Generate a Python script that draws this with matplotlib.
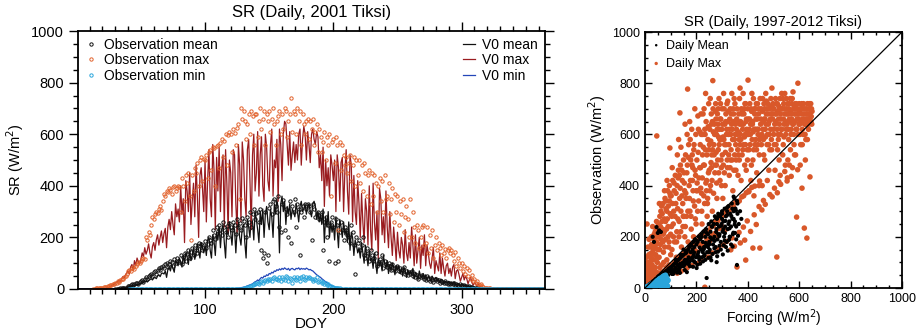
import matplotlib
matplotlib.use("Agg")
import matplotlib.pyplot as plt
import numpy as np
from matplotlib.ticker import MultipleLocator

plt.rcParams['font.family'] = ['Liberation Sans', 'DejaVu Sans']

# ---------------- left panel: daily SR, 2001 (DOY 1..365) ----------------
v0_max = [0]*19 + [
    1, 2, 3, 4, 5, 7, 9, 12, 15, 18,
    22, 26, 30, 34, 28, 40, 48, 44, 55, 62,
    70, 58, 85, 95, 72, 110, 90, 120, 105, 98,
    115, 140, 125, 160, 135, 150, 175, 140, 120, 165,
    180, 150, 190, 210, 170, 200, 225, 180, 215, 235,
    160, 240, 270, 230, 300, 250, 210, 330, 280, 310,
    260, 400, 290, 350, 180, 420, 380, 300, 450, 250,
    340, 410, 280, 480, 360, 200, 440, 470, 390, 300,
    500, 260, 420, 540, 350, 280, 560, 460, 230, 510,
    380, 550, 300, 470, 520, 240, 540, 410, 220, 500,
    450, 280, 540, 520, 330, 220, 560, 480, 260, 570,
    500, 350, 280, 540, 580, 420, 230, 520, 600, 380,
    450, 610, 360, 520, 590, 400, 340, 600, 550, 420,
    380, 560, 620, 360, 500, 470, 580, 340, 620, 560,
    420, 600, 650, 640, 560, 480, 610, 460, 520, 570,
    490, 560, 500, 600, 620, 480, 580, 630, 600, 500,
    610, 560, 490, 600, 620, 580, 560, 610, 590, 470,
    520, 420, 550, 320, 500, 400, 470, 360, 520, 480,
    420, 500, 300, 520, 470, 340, 490, 510, 300, 460,
    540, 380, 290, 520, 480, 260, 440, 300, 250, 420,
    330, 200, 370, 260, 180, 350, 300, 170, 400, 230,
    150, 410, 260, 190, 300, 120, 390, 350, 210, 280,
    180, 380, 240, 160, 300, 200, 130, 240, 180, 110,
    220, 150, 120, 200, 170, 100, 230, 140, 110, 180,
    120, 240, 170, 90, 210, 100, 150, 200, 80, 170,
    130, 210, 90, 170, 140, 100, 80, 120, 160, 60,
    110, 90, 70, 140, 60, 120, 80, 50, 90, 100,
    60, 80, 50, 85, 95, 40, 70, 75, 55, 30,
    45, 60, 35, 50, 40, 20, 35, 45, 25, 15,
    25, 18, 12, 20, 10, 6, 8, 4, 3, 2,
    1, 1]
v0_mean = [0]*29 + [
    1, 1, 2, 2, 3, 3, 4, 5, 5, 6,
    8, 10, 9, 12, 14, 11, 16, 18, 15, 20,
    22, 25, 24, 28, 30, 27, 33, 36, 40, 35,
    42, 45, 40, 50, 55, 48, 60, 62, 58, 70,
    45, 75, 85, 70, 95, 80, 65, 110, 100, 90,
    120, 105, 85, 130, 100, 140, 125, 95, 150, 110,
    130, 160, 115, 140, 175, 150, 120, 180, 160, 140,
    170, 130, 190, 200, 150, 120, 210, 185, 130, 220,
    190, 240, 160, 230, 250, 180, 120, 240, 210, 260,
    220, 170, 250, 230, 140, 230, 260, 200, 170, 240,
    250, 180, 120, 270, 240, 200, 280, 260, 190, 300,
    270, 230, 180, 300, 250, 310, 200, 290, 320, 260,
    230, 310, 280, 200, 330, 290, 350, 310, 140, 330,
    360, 300, 340, 250, 320, 290, 330, 270, 310, 300,
    280, 330, 300, 260, 320, 340, 300, 310, 330, 290,
    320, 330, 300, 280, 330, 340, 320, 270, 300, 260,
    290, 250, 310, 180, 280, 240, 300, 200, 260, 220,
    250, 190, 280, 230, 160, 270, 240, 200, 260, 210,
    230, 180, 260, 150, 220, 200, 130, 190, 170, 140,
    160, 120, 180, 140, 100, 170, 130, 90, 150, 110,
    120, 80, 140, 100, 60, 120, 90, 110, 70, 130,
    100, 80, 110, 60, 95, 70, 100, 85, 55, 90,
    75, 90, 60, 80, 50, 85, 70, 45, 75, 60,
    70, 55, 80, 40, 65, 60, 35, 70, 50, 45,
    60, 40, 55, 35, 50, 45, 30, 50, 40, 35,
    45, 30, 40, 25, 38, 35, 20, 30, 28, 25,
    30, 22, 25, 18, 28, 20, 15, 22, 18, 12,
    20, 15, 12, 16, 10, 12, 8, 10, 6, 5,
    5, 4, 3, 3, 2, 2, 1, 1]
v0_min = [0]*119 + [
    0, 0, 1, 1, 2, 2, 3, 4, 5, 6,
    7, 8, 10, 12, 14, 16, 18, 20, 24, 28,
    30, 35, 32, 40, 45, 42, 50, 48, 55, 52,
    60, 58, 65, 62, 70, 68, 75, 72, 78, 74,
    80, 76, 82, 78, 75, 80, 72, 78, 80, 76,
    74, 80, 78, 82, 75, 80, 77, 79, 76, 81,
    78, 74, 76, 72, 70, 65, 60, 55, 52, 48,
    45, 40, 36, 32, 28, 25, 22, 18, 15, 12,
    10, 8, 6, 5, 4, 3, 2, 1, 1]

obs_mean = [None]*29 + [
    0, 0, 1, 1, 2, 2, 3, 4, 4, 5,
    10, 12, 15, 18, 14, 20, 22, 25, 20, 28,
    30, 35, 28, 40, 45, 38, 50, 55, 60, 52,
    65, 70, 60, 75, 80, 72, 85, 90, 80, 95,
    100, 85, 95, 110, 105, 90, 115, 100, 120, 110,
    105, 130, 95, 125, 140, 110, 135, 150, 120, 145,
    160, 130, 170, 150, 140, 180, 165, 175, 150, 170,
    185, 160, 175, 200, 190, 180, 230, 210, 195, 240,
    225, 250, 230, 210, 260, 240, 220, 245, 200, 255,
    240, 230, 260, 250, 215, 270, 240, 255, 230, 275,
    265, 250, 200, 280, 260, 300, 240, 290, 310, 270,
    295, 300, 260, 310, 150, 120, 140, 300, 100, 130,
    315, 330, 290, 340, 350, 320, 300, 360, 240, 220,
    330, 345, 230, 310, 290, 200, 340, 180, 320, 300,
    350, 240, 330, 310, 130, 300, 320, 280, 330, 310,
    330, 320, 300, 190, 330, 310, 280, 290, 300, 270,
    280, 300, 150, 260, 280, 200, 250, 110, 260, 280,
    240, 100, 270, 250, 110, 220, 260, 230, 190, 240,
    230, 210, 200, 180, 250, 220, 170, 60, 200, 180,
    190, 150, 170, 200, 130, 120, 160, 140, 110, 150,
    130, 110, 120, 140, 90, 100, 115, 95, 130, 80,
    110, 95, 85, 100, 90, 75, 95, 80, 70, 85,
    90, 70, 80, 65, 75, 85, 60, 70, 55, 65,
    60, 70, 50, 60, 45, 55, 40, 50, 45, 55,
    48, 40, 35, 50, 38, 30, 42, 35, 28, 40,
    38, 30, 35, 25, 32, 28, 22, 30, 25, 20,
    25, 20, 22, 18, 24, 15, 20, 16, 12, 18,
    15, 12, 14, 10, 12, 8, 10, 7, 6, 5,
    4, 3, 3, 2, 2, 1, 1, 1, 0, 0]
obs_max = [None]*12 + [
    1, 1, 2, 2, 3, 3, 4,
    5, 6, 7, 8, 10, 12, 14, 16, 18, 20,
    22, 25, 30, 28, 35, 40, 38, 45, 50, 60,
    70, 75, 68, 80, 85, 78, 90, 95, 105, 100,
    110, 115, 120, 118, 200, 190, 220, 210, 250, 280,
    270, 290, 300, 295, 310, 320, 305, 340, 370, 360,
    380, 375, 390, 385, 370, 395, 400, 380, 390, 400,
    395, 300, 430, 400, 340, 440, 410, 450, 360, 190,
    440, 380, 470, 450, 490, 400, 500, 510, 420, 505,
    500, 520, 430, 530, 540, 460, 550, 545, 400, 555,
    560, 470, 565, 580, 510, 575, 600, 480, 595, 610,
    600, 530, 620, 605, 560, 625, 640, 350, 700, 660,
    690, 650, 580, 640, 680, 600, 690, 670, 560, 680,
    680, 590, 650, 700, 620, 660, 690, 560, 680, 650,
    690, 610, 660, 700, 640, 560, 650, 670, 690, 600,
    680, 620, 700, 690, 590, 650, 680, 740, 610, 690,
    680, 600, 700, 650, 690, 560, 680, 640, 600, 650,
    660, 580, 650, 620, 660, 560, 610, 640, 530, 620,
    590, 530, 570, 610, 500, 590, 560, 600, 360, 570,
    580, 490, 590, 560, 230, 570, 460, 560, 520, 480,
    510, 450, 490, 520, 420, 480, 510, 400, 500, 440,
    500, 410, 480, 380, 490, 450, 360, 440, 460, 330,
    450, 360, 440, 410, 300, 400, 430, 340, 420, 300,
    440, 350, 360, 410, 290, 350, 390, 260, 370, 300,
    360, 250, 340, 290, 350, 220, 280, 320, 270, 200,
    350, 200, 300, 240, 180, 250, 230, 160, 200, 240,
    250, 170, 180, 240, 140, 210, 160, 230, 120, 170,
    200, 150, 180, 160, 130, 170, 140, 155, 120, 150,
    160, 140, 150, 130, 110, 145, 90, 120, 100, 80,
    100, 70, 90, 60, 80, 50, 75, 40, 55, 30,
    40, 25, 30, 20, 15, 18, 10, 8, 5, 4,
    3, 2, 2, 1, 1, 0]
obs_min = [None]*40 + [0]*89 + [
    2, 3, 4, 6, 8, 10, 12, 15, 18, 20,
    22, 25, 20, 28, 30, 25, 32, 35, 30, 38,
    35, 40, 30, 42, 45, 38, 40, 35, 45, 30,
    48, 40, 35, 50, 45, 30, 42, 38, 25, 45,
    40, 35, 48, 42, 30, 45, 50, 40, 35, 46,
    42, 48, 44, 38, 30, 40, 35, 45, 28, 32,
    30, 25, 28, 20, 22, 15, 18, 12, 10, 8,
    6, 5, 4, 3, 2, 2, 1, 1, 0, 0] + [0]*120

# ---------------- right panel: forcing vs observation, 1997-2012 ----------------
max_forcing = [
    2, 5, 8, 10, 12, 15, 18, 20, 22, 25, 28, 30, 32, 35, 38, 40, 42, 45, 48, 50,
    5, 10, 15, 20, 25, 30, 35, 40, 45, 50, 8, 12, 30, 40, 48, 20, 3, 6, 16, 26, 36, 44, 46,
    52, 55, 58, 60, 62, 65, 68, 70, 72, 75, 78, 80, 82, 85, 88, 90, 92, 95, 98, 100,
    55, 60, 65, 70, 75, 80, 85, 90, 95, 100, 58, 63, 73, 83, 93, 97, 86, 66, 76, 56, 97,
    102, 105, 108, 110, 112, 115, 118, 120, 122, 125, 128, 130, 132, 135, 138, 140, 142, 145, 148, 150,
    104, 114, 124, 134, 144, 146, 116, 136, 126, 140, 106, 131, 149,
    152, 155, 158, 160, 162, 165, 168, 170, 172, 175, 178, 180, 182, 185, 188, 190, 192, 195, 198, 200,
    156, 166, 176, 186, 196, 164, 174, 184, 194, 154, 171, 189,
    202, 205, 208, 210, 212, 215, 218, 220, 222, 225, 228, 230, 232, 235, 238, 240, 242, 245, 248, 250,
    206, 226, 236, 246, 216, 204, 224, 244, 214, 234, 249, 239, 233,
    252, 255, 258, 260, 262, 265, 268, 270, 272, 275, 278, 280, 282, 285, 288, 290, 292, 295, 298, 300,
    256, 266, 276, 286, 296, 254, 264, 274, 284, 294, 258, 278, 298, 269, 289, 262, 285,
    302, 305, 308, 310, 312, 315, 318, 320, 322, 325, 328, 330, 332, 335, 338, 340, 342, 345, 348, 350,
    304, 314, 324, 334, 344, 306, 326, 346, 316, 336, 319, 339, 303, 331, 347,
    352, 355, 358, 360, 362, 365, 368, 370, 372, 375, 378, 380, 382, 385, 388, 390, 392, 395, 398, 400,
    356, 366, 376, 386, 396, 370, 354, 374, 394, 364, 384, 398, 359, 379,
    401, 402, 405, 408, 410, 412, 415, 418, 420, 422, 425, 428, 430, 432, 435, 438, 440, 442, 445, 448, 450,
    404, 424, 444, 414, 434, 446, 416, 436, 426, 406, 447, 420,
    452, 455, 458, 460, 462, 465, 468, 470, 472, 475, 478, 480, 482, 485, 488, 490, 492, 495, 498, 500,
    456, 476, 494, 466, 486, 464, 484, 474, 392, 358,
    502, 505, 508, 510, 512, 515, 518, 520, 522, 525, 528, 530, 532, 535, 538, 540, 542, 545, 548, 550,
    513, 506, 526, 546, 516, 536, 524, 544,
    552, 555, 558, 560, 562, 565, 568, 570, 572, 575, 576, 578, 580, 582, 585, 588, 590, 592, 595, 598, 600,
    590, 556, 566, 586, 596, 554, 574,
    602, 605, 608, 610, 611, 612, 615, 618, 620, 622, 625, 628, 630, 632, 635, 638, 640, 642, 645, 648, 650,
    606, 616, 626, 636, 646, 604, 624,
    # second pass over the dense cloud
    14, 17, 23, 27, 33, 37, 43, 47, 53, 57, 63, 67, 71, 77, 81, 84, 87, 91, 94, 99,
    103, 107, 111, 113, 117, 121, 123, 127, 129, 133, 137, 139, 143, 147, 151, 153, 157, 159, 163, 167,
    169, 173, 177, 179, 183, 187, 191, 193, 197, 199, 203, 207, 209, 213, 217, 219, 221, 223, 227, 229,
    231, 233, 237, 241, 243, 247, 251, 253, 257, 259, 261, 263, 267, 271, 273, 277, 279, 281, 283, 287,
    291, 293, 297, 299, 301, 307, 309, 311, 313, 317, 321, 323, 327, 329, 333, 337, 341, 343, 349, 351,
    353, 357, 361, 363, 367, 369, 371, 373, 377, 381, 383, 387, 389, 391, 393, 397, 399, 403, 407, 409,
    411, 413, 417, 419, 421, 423, 427, 429, 431, 433, 437, 439, 441, 443, 449, 451, 453, 457, 459, 461,
    463, 467, 469, 471, 473, 477, 479, 481, 483, 487, 489, 491, 493, 497, 499, 501, 503, 507, 509, 511,
    514, 517, 519, 521, 523, 527, 529, 531, 533, 537, 539, 541, 543, 547, 549, 551, 553, 557, 559, 561,
    563, 567, 569, 571, 573, 577, 579, 581, 583, 587, 589, 591, 593, 597, 599, 601, 603, 607, 609, 613,
    617, 619, 621, 623, 627, 629, 631, 633, 637, 639, 641, 643, 647, 649, 612, 632, 582, 562, 544, 521,
    504, 486, 461, 444, 425, 398, 383, 366, 339, 318, 305, 287, 262, 246, 221, 205, 183, 164, 141, 126,
    433, 455, 468, 495, 515, 528, 553, 569, 594, 411, 388, 371, 348, 334, 9, 6, 14, 19, 24, 31,
    # points just under the 1:1 line
    21, 29, 41, 52, 61, 72, 79, 92, 101, 112, 118, 131, 142, 149, 161, 172, 178, 192, 201, 212,
    222, 228, 241, 252, 259, 272, 281, 288, 302, 311, 36, 56, 74, 96, 114, 136, 154, 176, 194, 216,
    233, 257, 273, 296, 316, 336, 353, 377, 394, 416, 67, 86, 104, 127, 146, 166, 186, 203, 226, 244,
    266, 284, 306, 327, 344, 367, 384, 404, 427, 446]
max_obs = [
    5, 20, 40, 60, 30, 80, 50, 100, 70, 120, 90, 140, 60, 110, 160, 80, 130, 180, 100, 150,
    70, 100, 130, 160, 200, 240, 190, 220, 260, 200, 250, 160, 40, 50, 60, 40, 90, 120, 190, 170, 210, 230, 594,
    250, 120, 280, 170, 300, 90, 230, 330, 140, 270, 350, 190, 310, 110, 380, 240, 160, 400, 290, 210,
    200, 240, 320, 180, 220, 260, 300, 200, 340, 130, 80, 60, 100, 80, 90, 370, 420, 260, 380, 330, 547,
    360, 150, 420, 250, 300, 180, 440, 330, 120, 400, 270, 460, 200, 350, 480, 300, 160, 420, 240, 500,
    280, 380, 220, 440, 360, 130, 100, 684, 520, 550, 470, 580, 280,
    450, 200, 520, 350, 280, 480, 180, 560, 400, 300, 500, 230, 620, 420, 340, 540, 150, 460, 600, 380,
    640, 777, 580, 470, 270, 600, 650, 520, 700, 380, 120, 200,
    500, 300, 620, 430, 200, 560, 680, 370, 250, 600, 480, 700, 330, 540, 650, 420, 280, 580, 720, 460,
    672, 680, 760, 630, 470, 380, 520, 350, 610, 600, 540, 380, 3,
    620, 400, 680, 520, 300, 700, 560, 640, 450, 720, 600, 350, 680, 540, 740, 620, 420, 660, 580, 700,
    574, 610, 660, 590, 500, 740, 810, 690, 640, 720, 470, 480, 400, 520, 560, 650, 700,
    640, 480, 700, 560, 400, 680, 620, 500, 730, 600, 440, 660, 700, 540, 760, 620, 380, 680, 580, 720,
    590, 650, 690, 600, 650, 760, 520, 460, 560, 680, 720, 500, 350, 470, 740,
    640, 500, 700, 600, 440, 680, 740, 560, 650, 700, 520, 620, 760, 680, 480, 600, 720, 660, 540, 700,
    620, 580, 640, 700, 620, 781, 460, 420, 460, 520, 560, 600, 650, 690,
    812, 660, 540, 720, 600, 420, 690, 640, 500, 740, 620, 560, 700, 660, 450, 720, 600, 680, 520, 740, 640,
    380, 360, 400, 480, 540, 580, 760, 620, 700, 620, 156, 156,
    700, 600, 740, 650, 520, 700, 620, 760, 680, 560, 720, 640, 460, 700, 660, 740, 580, 680, 720, 620,
    400, 420, 781, 500, 540, 660, 600, 700, 109, 82,
    700, 640, 740, 560, 680, 720, 600, 660, 500, 740, 680, 620, 760, 700, 560, 720, 640, 680, 600, 740,
    121, 460, 440, 480, 540, 520, 700, 760,
    680, 720, 620, 700, 660, 740, 600, 680, 720, 640, 766, 700, 560, 680, 720, 620, 700, 660, 800, 680, 720,
    277, 500, 540, 520, 600, 430, 470,
    640, 700, 680, 720, 390, 620, 700, 660, 234, 700, 640, 680, 195, 720, 660, 700, 680, 434, 720, 700, 690,
    560, 600, 580, 620, 650, 480, 500,
    # second pass over the dense cloud
    45, 95, 135, 60, 150, 75, 170, 120, 210, 150, 190, 290, 210, 160, 340, 230, 270, 320, 180, 360,
    240, 330, 200, 410, 280, 370, 180, 310, 430, 260, 390, 220, 460, 330, 280, 410, 240, 370, 450, 300,
    510, 350, 420, 280, 480, 380, 560, 320, 440, 250, 410, 530, 340, 470, 390, 600, 300, 430, 550, 360,
    480, 620, 410, 520, 330, 450, 560, 380, 490, 640, 420, 540, 370, 600, 480, 530, 410, 620, 500, 450,
    580, 660, 470, 620, 520, 580, 450, 640, 530, 600, 470, 650, 560, 620, 500, 640, 580, 700, 520, 600,
    560, 660, 540, 610, 500, 640, 600, 580, 680, 540, 640, 590, 720, 560, 650, 610, 500, 600, 660, 560,
    640, 700, 580, 650, 610, 540, 680, 620, 580, 720, 660, 560, 620, 700, 590, 660, 560, 690, 620, 580,
    720, 660, 590, 640, 730, 600, 680, 560, 650, 710, 620, 680, 540, 660, 700, 600, 560, 680, 650, 720,
    620, 690, 580, 710, 640, 600, 660, 700, 620, 740, 660, 590, 700, 650, 620, 700, 640, 680, 580, 720,
    650, 690, 620, 660, 740, 640, 600, 710, 650, 680, 720, 620, 700, 660, 640, 690, 600, 650, 700, 660,
    720, 680, 640, 600, 660, 700, 650, 680, 640, 720, 660, 700, 670, 640, 560, 580, 520, 480, 455, 415,
    390, 365, 342, 318, 286, 262, 238, 217, 196, 182, 168, 152, 137, 121, 108, 96, 88, 79, 66, 58,
    248, 305, 327, 356, 372, 405, 418, 436, 462, 221, 187, 176, 163, 149, 30, 50, 70, 85, 110, 135,
    # points just under the 1:1 line
    14, 20, 27, 38, 43, 55, 52, 68, 72, 86, 80, 98, 105, 101, 122, 131, 124, 150, 142, 166,
    172, 160, 190, 184, 205, 213, 201, 232, 238, 226, 30, 47, 66, 84, 101, 123, 140, 163, 178, 199,
    220, 238, 259, 279, 297, 320, 335, 356, 372, 393, 58, 71, 88, 110, 127, 148, 168, 181, 204, 224,
    243, 263, 284, 301, 318, 340, 360, 376, 398, 418]

mean_forcing = [
    2, 5, 8, 10, 12, 15, 18, 20, 22, 25, 28, 30, 32, 35, 38, 40, 42, 45, 48, 50,
    52, 55, 58, 60, 62, 65, 68, 70, 72, 75, 78, 80, 82, 85, 88, 90, 92, 95, 98, 100,
    45, 55, 62, 50, 35, 30,
    102, 105, 108, 110, 112, 115, 118, 120, 122, 125, 128, 130, 132, 135, 136, 138, 140, 142, 145, 148, 150, 150,
    152, 155, 158, 160, 162, 165, 168, 170, 172, 175, 178, 180, 182, 185, 188, 190, 192, 195, 198, 200,
    201, 205, 208, 210, 212, 215, 218, 220, 222, 225, 228, 230, 232, 235, 238, 240, 240, 242, 245, 248, 250,
    252, 255, 258, 260, 262, 265, 268, 270, 272, 275, 278, 280, 282, 285, 288, 290, 292, 295, 298, 300,
    302, 305, 308, 310, 312, 315, 318, 320, 322, 325, 328, 330, 332, 335, 338, 340, 342, 345, 348, 350,
    352, 355, 358, 358, 345, 360, 300, 320, 280,
    105, 115, 125, 135, 145, 155, 165, 175, 185, 195, 205, 215, 225, 235, 245, 255, 265, 275, 285, 295,
    305, 315, 325, 335, 345, 355, 163, 187, 204, 226, 247, 263, 284, 306, 327, 344, 213, 236, 254, 277,
    296, 313, 336, 354, 191, 211, 229, 251, 271, 289, 311, 329, 349, 258, 281, 303, 322, 341, 362, 279,
    90, 110, 130, 150, 170, 190, 210, 230, 250, 270, 290, 310, 330, 350, 120, 140, 160, 180, 200, 220,
    240, 260, 280, 300, 320, 340, 360, 370, 375, 365]
mean_obs = [
    1, 4, 6, 8, 10, 12, 15, 14, 18, 20, 22, 25, 20, 28, 30, 26, 35, 32, 38, 40,
    45, 35, 48, 42, 50, 45, 55, 48, 60, 52, 62, 58, 66, 60, 70, 65, 75, 68, 80, 72,
    238, 225, 219, 215, 180, 200,
    60, 85, 70, 90, 65, 95, 80, 100, 75, 105, 90, 110, 70, 115, 59, 95, 120, 85, 125, 100, 130, 150,
    90, 110, 135, 100, 140, 95, 150, 120, 160, 105, 140, 170, 115, 150, 180, 130, 160, 190, 120, 170,
    78, 180, 140, 200, 110, 190, 150, 210, 120, 180, 220, 160, 130, 200, 230, 39, 170, 140, 210, 250, 180,
    150, 220, 260, 190, 240, 170, 250, 200, 280, 160, 230, 270, 190, 290, 240, 210, 280, 180, 250, 300,
    220, 260, 200, 310, 240, 280, 180, 300, 230, 320, 260, 200, 290, 240, 330, 270, 210, 300, 350, 260,
    310, 240, 340, 90, 357, 290, 290, 315, 275,
    55, 70, 60, 80, 95, 70, 110, 85, 120, 100, 130, 95, 140, 110, 160, 120, 190, 140, 210, 150,
    230, 160, 250, 170, 270, 190, 62, 83, 91, 104, 118, 133, 142, 167, 188, 216, 158, 176, 198, 219,
    243, 262, 281, 302, 139, 121, 152, 171, 184, 203, 214, 233, 248, 108, 124, 131, 146, 162, 204, 101,
    50, 55, 72, 85, 95, 105, 118, 125, 140, 155, 165, 185, 200, 215, 110, 130, 145, 165, 185, 200,
    215, 240, 250, 270, 285, 310, 330, 300, 270, 250]

min_forcing = [
    2, 5, 8, 10, 12, 15, 18, 20, 22, 25, 28, 30, 32, 35, 38, 40, 42, 45, 48, 50,
    52, 55, 58, 60, 62, 65, 68, 70, 72, 75, 78, 80, 82, 85, 88, 90,
    60, 70, 80, 86, 76, 66, 56, 46, 36, 26]
min_obs = [
    1, 3, 2, 6, 4, 8, 5, 12, 8, 15, 10, 18, 6, 20, 12, 25, 8, 28, 15, 30,
    5, 35, 20, 38, 10, 40, 25, 45, 12, 48, 30, 50, 15, 40, 8, 30,
    2, 3, 5, 25, 20, 15, 12, 5, 3, 2]

C_BLACK = '#111111'
C_ORANGE = '#e2622c'
C_CYAN = '#2aa5db'
C_RED = '#9a1c20'
C_BLUE = '#2346b8'

def arr(v):
    a = np.array([np.nan if x is None else x for x in v], dtype=float)
    return np.concatenate([a, np.zeros(365 - len(a))]) if len(a) < 365 else a[:365]

days = np.arange(1, 366)

fig = plt.figure(figsize=(9.16, 3.31), dpi=100)
ax = fig.add_axes([0.0852, 0.1269, 0.5098, 0.7794])
ax2 = fig.add_axes([0.7041, 0.1299, 0.2806, 0.7734])

# left
l1, = ax.plot(days, arr(v0_mean), color=C_BLACK, lw=0.9, label='V0 mean')
l2, = ax.plot(days, arr(v0_max), color=C_RED, lw=0.9, label='V0 max')
l3, = ax.plot(days, arr(v0_min), color=C_BLUE, lw=0.9, label='V0 min')
mk = dict(ls='none', marker='o', mfc='none', ms=2.4, mew=0.7)
p1, = ax.plot(days, arr(obs_mean), color=C_BLACK, label='Observation mean', **mk)
p2, = ax.plot(days, arr(obs_max), color=C_ORANGE, label='Observation max', **mk)
p3, = ax.plot(days, arr(obs_min), color=C_CYAN, label='Observation min', **mk)

ax.set_xlim(1, 365)
ax.set_ylim(0, 1000)
ax.set_xticks([100, 200, 300])
ax.xaxis.set_minor_locator(MultipleLocator(10))
ax.set_yticks(np.arange(0, 1001, 200))
ax.yaxis.set_minor_locator(MultipleLocator(50))
ax.tick_params(which='both', direction='out', top=True, right=True, labelsize=10.5, width=1.0)
ax.tick_params(which='major', length=6.5)
ax.tick_params(which='minor', length=3.5)
for s in ax.spines.values():
    s.set_linewidth(1.3)
ax.set_title('SR (Daily, 2001 Tiksi)', fontsize=12, pad=10)
ax.set_xlabel('DOY', fontsize=11, labelpad=0)
ax.set_ylabel('SR (W/m$^2$)', fontsize=10.5, labelpad=4)

leg1 = ax.legend(handles=[p1, p2, p3], loc='upper left', frameon=False, fontsize=10,
                 handlelength=0.8, handletextpad=0.6, labelspacing=0.1,
                 borderaxespad=0.2, borderpad=0.3)
ax.add_artist(leg1)
ax.legend(handles=[l1, l2, l3], loc='upper right', frameon=False, fontsize=10,
          handlelength=0.9, handletextpad=0.5, labelspacing=0.1,
          borderaxespad=0.2, borderpad=0.3)

# right
ax2.plot([0, 1000], [0, 1000], color='black', lw=0.9, zorder=5)
ax2.scatter(max_forcing, max_obs, s=16, color='#d9582a', edgecolors='none', label='Daily Max', zorder=2)
ax2.scatter(mean_forcing, mean_obs, s=9, color='black', edgecolors='none', label='Daily Mean', zorder=3)
ax2.scatter(min_forcing, min_obs, s=16, color=C_CYAN, edgecolors='none', zorder=4)
ax2.set_xlim(0, 1000)
ax2.set_ylim(0, 1000)
ax2.set_xticks(np.arange(0, 1001, 200))
ax2.set_yticks(np.arange(0, 1001, 200))
ax2.xaxis.set_minor_locator(MultipleLocator(50))
ax2.yaxis.set_minor_locator(MultipleLocator(50))
ax2.tick_params(which='both', direction='in', top=True, right=True, labelsize=9, width=1.0)
ax2.tick_params(which='major', length=5)
ax2.tick_params(which='minor', length=2.5)
for s in ax2.spines.values():
    s.set_linewidth(1.3)
ax2.set_title('SR (Daily, 1997-2012 Tiksi)', fontsize=10.5, pad=4)
ax2.set_xlabel('Forcing (W/m$^2$)', fontsize=10, labelpad=2)
ax2.set_ylabel('Observation (W/m$^2$)', fontsize=10.5, labelpad=3)
h, lb = ax2.get_legend_handles_labels()
ax2.legend([h[1], h[0]], [lb[1], lb[0]], loc='upper left', frameon=False, fontsize=9,
           handlelength=0.6, handletextpad=0.5, labelspacing=0.5, markerscale=0.6,
           borderaxespad=0.2, borderpad=0.4)

plt.savefig('out.png', dpi=100)
